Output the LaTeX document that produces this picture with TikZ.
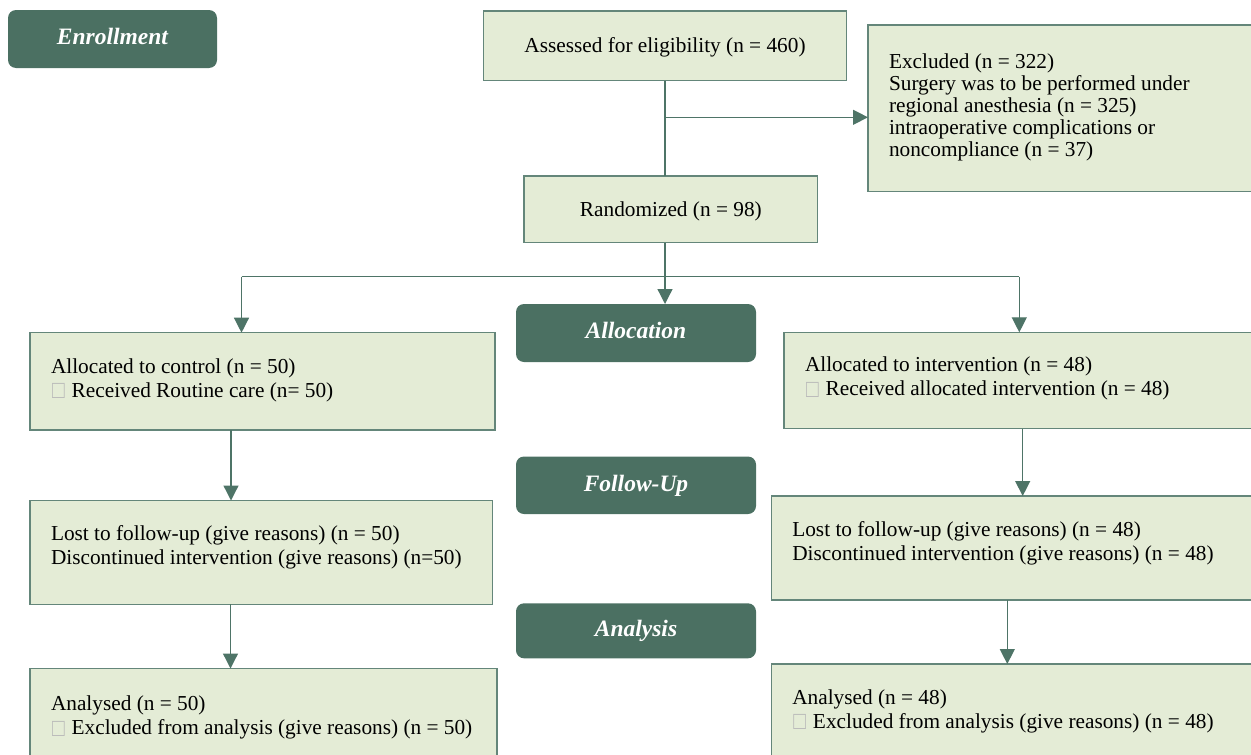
\documentclass[tikz,border=0pt]{standalone}
\usepackage{fontspec}
\setmainfont{Liberation Serif}
\usetikzlibrary{arrows.meta,calc}
\definecolor{labfill}{RGB}{75,112,98}
\definecolor{boxfill}{RGB}{228,236,214}
\definecolor{boxdraw}{RGB}{100,134,122}
\definecolor{arrcol}{RGB}{78,116,103}
\newcommand\bodyfnt{\fontsize{21.3}{24}\selectfont}
\newcommand\exclfnt{\fontsize{21.3}{22}\selectfont}
\newcommand\labfnt{\fontsize{23.5}{26}\selectfont\bfseries\itshape}
\newcommand\tofu{\hspace{1pt}\raisebox{-1.5pt}{\scalebox{1}[1.2]{\fontsize{21}{21}\selectfont\color{gray!55}□}}\hspace{7pt}}
\tikzset{
  box/.style={draw=boxdraw, fill=boxfill, line width=1.3pt, inner sep=0pt, outer sep=0pt},
  lab/.style={fill=labfill, rounded corners=8pt, inner sep=0pt, outer sep=0pt, text=white, font=\labfnt, text height=16.4pt, text depth=4.7pt},
  single/.style={box, font=\bodyfnt, text height=17.8pt, text depth=4pt},
  txt/.style={anchor=base west, align=left, inner sep=0pt, outer sep=0pt, font=\bodyfnt},
  conn/.style={draw=arrcol, line width=1.3pt},
  arr/.style={conn, -{Triangle[length=15pt,width=15pt]}},
}
\begin{document}
\begin{tikzpicture}[x=1pt,y=-1pt]
\useasboundingbox (0,0) rectangle (1251,755);
\clip (0,0) rectangle (1251,755);
% stage labels
\node[lab, minimum width=209pt, minimum height=58pt] (enroll) at (112.5,39) {Enrollment};
\node[lab, minimum width=240pt, minimum height=58pt] (alloc) at (636,333) {Allocation};
\node[lab, minimum width=240pt, minimum height=57.5pt] (follow) at (636,485.25) {Follow-Up};
\node[lab, minimum width=240pt, minimum height=55pt] (analysis) at (636,630.8) {Analysis};
% boxes
\node[single, minimum width=363.4pt, minimum height=69.7pt] (assess) at (665,45.85) {Assessed for eligibility (n = 460)};
\node[box, minimum width=394pt, minimum height=166.7pt] (excl) at (1065,108.35) {};
\node[single, minimum width=293.7pt, minimum height=66.7pt] (rand) at (670.85,209.35) {Randomized (n = 98)};
\node[box, minimum width=465pt, minimum height=97.3pt] (ctrlA) at (262.5,381.35) {};
\node[box, minimum width=478pt, minimum height=96.5pt] (intA) at (1023,380.55) {};
\node[box, minimum width=462.5pt, minimum height=103.8pt] (ctrlL) at (261.25,552.4) {};
\node[box, minimum width=490.3pt, minimum height=104pt] (intL) at (1016.85,548) {};
\node[box, minimum width=467pt, minimum height=101.5pt] (ctrlAn) at (263.5,719.25) {};
\node[box, minimum width=490.3pt, minimum height=106pt] (intAn) at (1016.85,717) {};
% texts (base anchor = baseline of the last line)
\node[txt, font=\exclfnt] (exclT) at ([xshift=21pt,yshift=-131.3pt]excl.north west)
  {Excluded (n = 322)\\Surgery was to be performed under\\regional anesthesia (n = 325)\\intraoperative complications or\\noncompliance (n = 37)};
\node[txt] (ctrlAT) at ([xshift=21pt,yshift=-64.3pt]ctrlA.north west)
  {Allocated to control (n = 50)\\\tofu Received Routine care (n= 50)};
\node[txt] (intAT) at ([xshift=21pt,yshift=-63.6pt]intA.north west)
  {Allocated to intervention (n = 48)\\\tofu Received allocated intervention (n = 48)};
\node[txt] (ctrlLT) at ([xshift=21pt,yshift=-64.4pt]ctrlL.north west)
  {Lost to follow-up (give reasons) (n = 50)\\Discontinued intervention (give reasons) (n=50)};
\node[txt] (intLT) at ([xshift=20.6pt,yshift=-64.5pt]intL.north west)
  {Lost to follow-up (give reasons) (n = 48)\\Discontinued intervention (give reasons) (n = 48)};
\node[txt] (ctrlAnT) at ([xshift=21pt,yshift=-66pt]ctrlAn.north west)
  {Analysed (n = 50)\\\tofu Excluded from analysis (give reasons) (n = 50)};
\node[txt] (intAnT) at ([xshift=20.6pt,yshift=-64pt]intAn.north west)
  {Analysed (n = 48)\\\tofu Excluded from analysis (give reasons) (n = 48)};
% connectors
\coordinate (branch) at (665,117.3);
\coordinate (hL) at (241.5,276.7);
\coordinate (hR) at (1019.3,276.7);
\draw[conn] (assess.south) -- (assess.south |- rand.north);
\draw[arr] (branch) -- (branch -| excl.west);
\draw[arr] (assess.south |- rand.south) -- (assess.south |- alloc.north);
\draw[conn] (hL) -- (hR);
\draw[arr] (hL) -- (hL |- ctrlA.north);
\draw[arr] (hR) -- (hR |- intA.north);
\draw[arr] ([xshift=201pt]ctrlA.south west) -- ([xshift=201pt]ctrlA.south west |- ctrlL.north);
\draw[arr] ([xshift=200.5pt]ctrlL.south west) -- ([xshift=200.5pt]ctrlL.south west |- ctrlAn.north);
\draw[arr] ([xshift=238.7pt]intA.south west) -- ([xshift=238.7pt]intA.south west |- intL.north);
\draw[arr] ([xshift=235.6pt]intL.south west) -- ([xshift=235.6pt]intL.south west |- intAn.north);
\end{tikzpicture}
\end{document}
